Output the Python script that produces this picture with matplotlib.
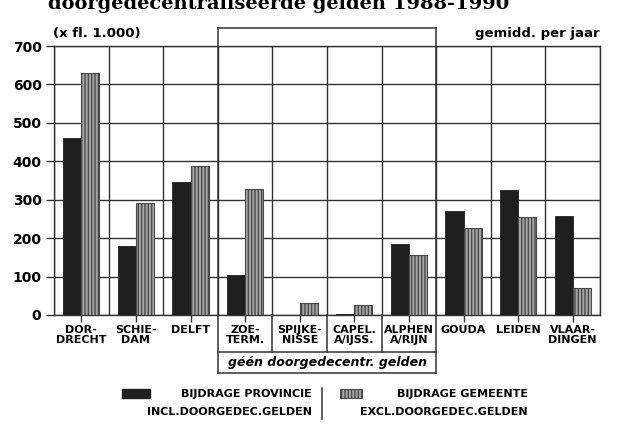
import numpy as np
import matplotlib
matplotlib.use("Agg")
import matplotlib.pyplot as plt
from matplotlib.patches import Rectangle
from matplotlib.lines import Line2D

# === Data (x fl. 1.000, gemiddeld per jaar) ===
gemeenten = ["DOR-\nDRECHT", "SCHIE-\nDAM", "DELFT", "ZOE-\nTERM.", "SPIJKE-\nNISSE",
             "CAPEL.\nA/IJSS.", "ALPHEN\nA/RIJN", "GOUDA", "LEIDEN", "VLAAR-\nDINGEN"]
provincie = [461, 180, 346, 105, 0, 3, 184, 271, 325, 258]
gemeente = [629, 291, 387, 328, 31, 26, 156, 227, 255, 70]
y_ticks = [0, 100, 200, 300, 400, 500, 600, 700]

plt.rcParams["font.family"] = "DejaVu Sans"
plt.rcParams["font.weight"] = "bold"
plt.rcParams["hatch.linewidth"] = 1.0

W, H = 640, 446
fig = plt.figure(figsize=(6.4, 4.46), dpi=100)
ax = fig.add_axes([54 / W, 1 - 315 / H, (600 - 54) / W, (315 - 46) / H])

x = np.arange(len(gemeenten)) + 0.5
bw = 0.33
ax.bar(x - bw / 2, provincie, width=bw, color="#1f1f1f", edgecolor="#1f1f1f", linewidth=0.6, zorder=3)
ax.bar(x + bw / 2, gemeente, width=bw, color="#a8a8a8", edgecolor="#4a4a4a",
       hatch="|||||", linewidth=0.8, zorder=3)

ax.set_xlim(0, len(gemeenten))
ax.set_ylim(0, 700)
ax.set_yticks(y_ticks)
ax.set_yticklabels([str(v) for v in y_ticks], fontsize=10, fontweight="bold")
ax.set_xticks(x)
ax.set_xticklabels(gemeenten, fontsize=8, fontweight="bold", linespacing=1.05)
ax.set_xticks(np.arange(len(gemeenten) + 1), minor=True)
ax.tick_params(axis="x", which="major", length=5, width=1, color="#333", pad=2)
ax.tick_params(axis="x", which="minor", length=0)
ax.tick_params(axis="y", length=6, width=1, color="#333", pad=3)

ax.set_axisbelow(True)
ax.grid(axis="y", color="#333", linewidth=1.0)
ax.grid(axis="x", which="minor", color="#333", linewidth=1.0)
for s in ax.spines.values():
    s.set_color("#333")
    s.set_linewidth(1.0)

# box around gemeenten without doorgedecentraliseerde gelden
tr = ax.get_xaxis_transform()
top, mid, bot = (315 - 28) / 269, -(352 - 315) / 269, -(373 - 315) / 269
box_kw = dict(transform=tr, color="#333", linewidth=1.1, clip_on=False)
for xb in (3, 7):
    ax.add_line(Line2D([xb, xb], [bot, top], **box_kw))
for xb in (4, 5, 6):
    ax.add_line(Line2D([xb, xb], [mid, 0], **box_kw))
ax.add_line(Line2D([3, 7], [top, top], **box_kw))
ax.add_line(Line2D([3, 7], [mid, mid], **box_kw))
ax.add_line(Line2D([3, 7], [bot, bot], **box_kw))
ax.text(5, (mid + bot) / 2, "géén doorgedecentr. gelden", transform=tr, ha="center", va="center",
        fontsize=9, fontweight="bold", fontstyle="italic")

# corner labels and title (cut off at the top, as in the scan)
fig.text(53 / W, 1 - 33 / H, "(x fl. 1.000)", fontsize=9.5, fontweight="bold", va="center")
fig.text(600 / W, 1 - 33 / H, "gemidd. per jaar", fontsize=9.5, fontweight="bold", va="center", ha="right")
fig.text(48 / W, 1 - 9 / H, "doorgedecentraliseerde gelden 1988-1990", fontsize=14,
         fontweight="bold", family="DejaVu Serif", va="baseline")

# legend
fig.add_artist(Rectangle((122 / W, 1 - 398 / H), 28 / W, 9 / H, transform=fig.transFigure,
                         facecolor="#1f1f1f", edgecolor="#1f1f1f"))
fig.add_artist(Rectangle((340 / W, 1 - 398 / H), 22 / W, 9 / H, transform=fig.transFigure,
                         facecolor="#a8a8a8", edgecolor="#4a4a4a", hatch="|||||", linewidth=0.8))
fig.text(312 / W, 1 - 394 / H, "BIJDRAGE PROVINCIE", fontsize=8, ha="right", va="center")
fig.text(312 / W, 1 - 412 / H, "INCL.DOORGEDEC.GELDEN", fontsize=8, ha="right", va="center")
fig.text(528 / W, 1 - 394 / H, "BIJDRAGE GEMEENTE", fontsize=8, ha="right", va="center")
fig.text(528 / W, 1 - 412 / H, "EXCL.DOORGEDEC.GELDEN", fontsize=8, ha="right", va="center")
fig.add_artist(Line2D([322 / W, 322 / W], [1 - 388 / H, 1 - 419 / H], transform=fig.transFigure,
                      color="#333", linewidth=1.1))

fig.savefig("out.png", dpi=100, facecolor="white")
